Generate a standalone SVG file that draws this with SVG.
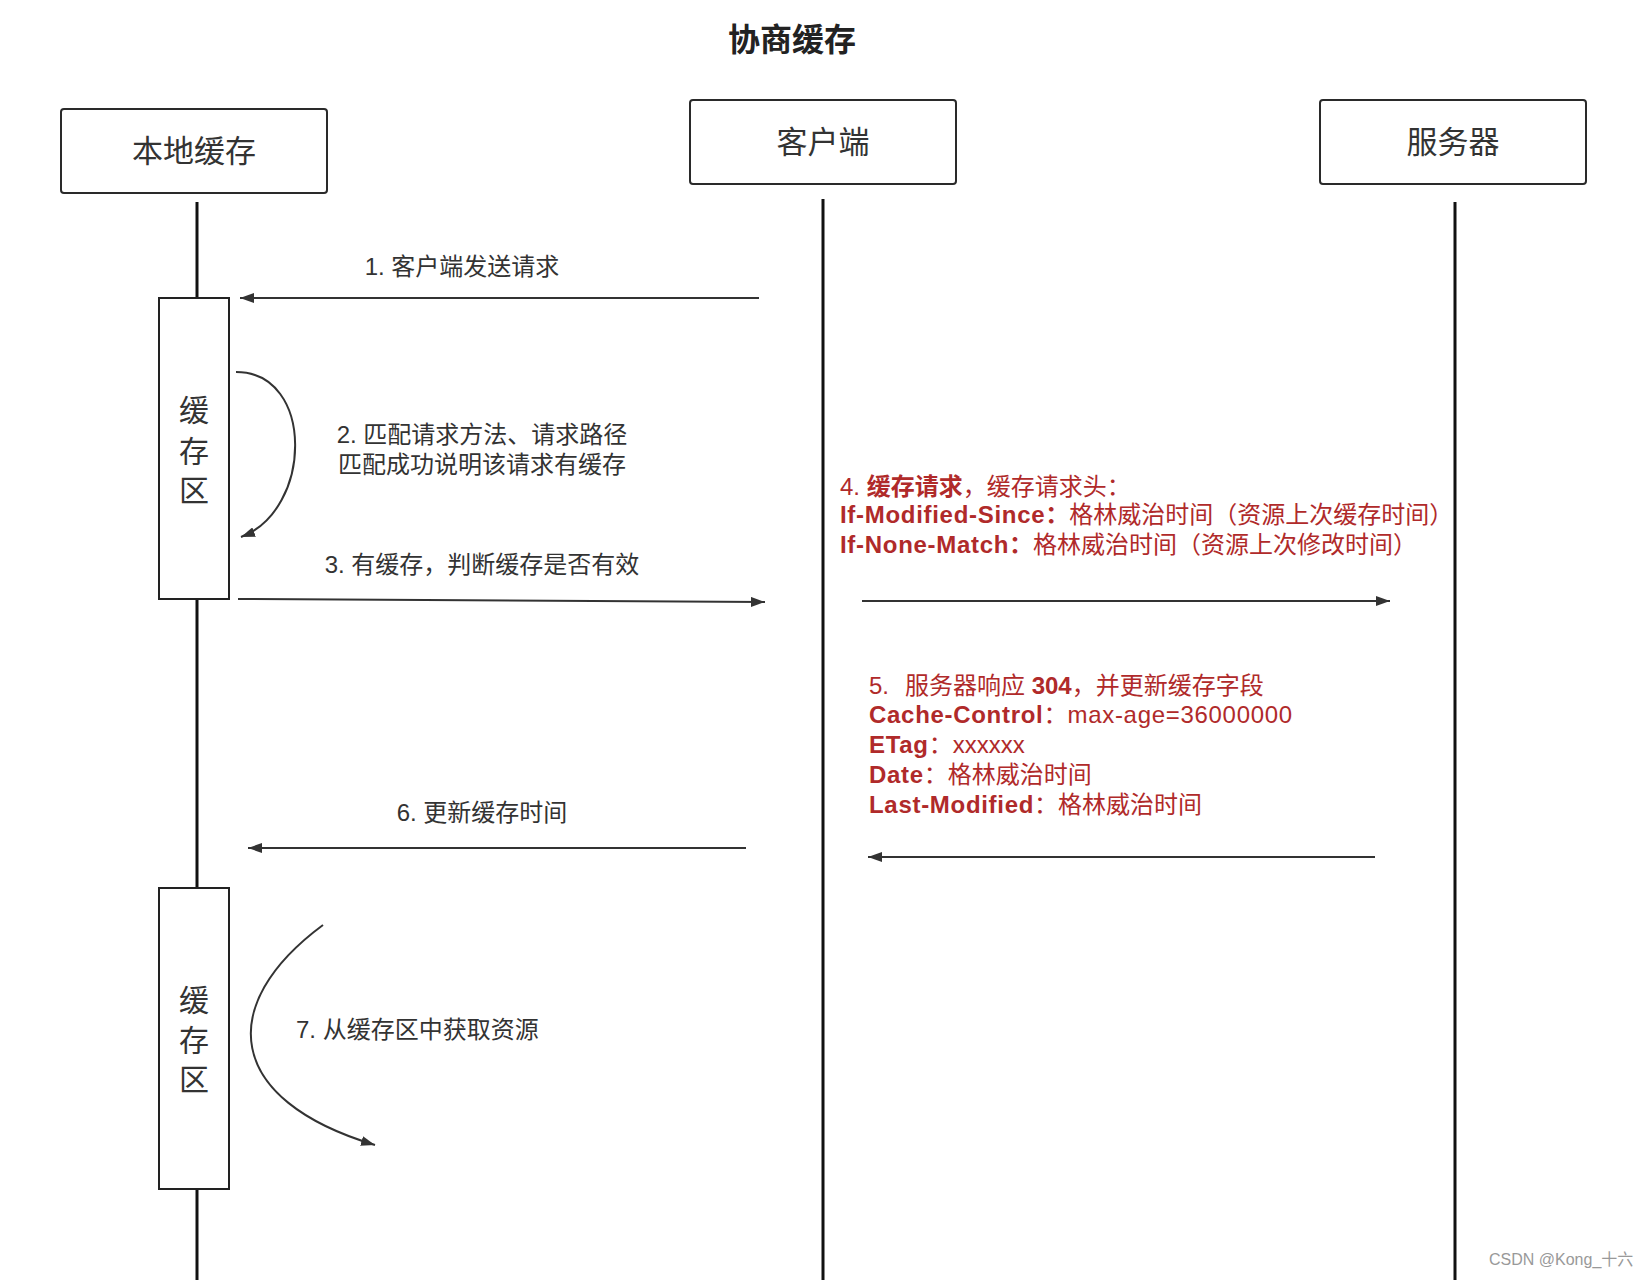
<svg xmlns="http://www.w3.org/2000/svg" width="1648" height="1280" viewBox="0 0 1648 1280">
<style>
text{font-family:"Liberation Sans","Noto Sans CJK SC",sans-serif;}
.title{font-size:32px;font-weight:bold;fill:#222;text-anchor:middle;}
.nodetxt{font-size:31px;fill:#333;text-anchor:middle;}
.box{fill:#fff;stroke:#2a2a2a;stroke-width:2;}
.act{fill:#fff;stroke:#222;stroke-width:2;}
.life{stroke:#111;stroke-width:3;fill:none;}
.arr{stroke:#333;stroke-width:2;fill:none;marker-end:url(#ah);}
.lbl{font-size:24px;fill:#333;}
.red{font-size:24px;fill:#b02a2a;}
.b{font-weight:bold;}
.ls{letter-spacing:0.7px;}
.acttxt{font-size:30px;fill:#333;text-anchor:middle;}
.wm{font-size:16px;fill:#999;}
</style>
<defs>
<marker id="ah" markerUnits="userSpaceOnUse" markerWidth="15" markerHeight="10" refX="14" refY="5" orient="auto">
<path d="M0,0 L14,5 L0,10 z" fill="#333"/>
</marker>
</defs>
<rect width="1648" height="1280" fill="#fff"/>
<text class="title" x="792" y="51">协商缓存</text>

<g id="lifelines">
<line class="life" x1="197" y1="202" x2="197" y2="298"/>
<line class="life" x1="197" y1="599" x2="197" y2="888"/>
<line class="life" x1="197" y1="1189" x2="197" y2="1280"/>
<line class="life" x1="823" y1="199" x2="823" y2="1280"/>
<line class="life" x1="1455" y1="202" x2="1455" y2="1280"/>
</g>

<g id="node-local">
<rect class="box" x="61" y="109" width="266" height="84" rx="3"/>
<text class="nodetxt" x="194" y="162">本地缓存</text>
</g>
<g id="node-client">
<rect class="box" x="690" y="100" width="266" height="84" rx="3"/>
<text class="nodetxt" x="823" y="153">客户端</text>
</g>
<g id="node-server">
<rect class="box" x="1320" y="100" width="266" height="84" rx="3"/>
<text class="nodetxt" x="1453" y="153">服务器</text>
</g>

<g id="cache-area-1">
<rect class="act" x="159" y="298" width="70" height="301"/>
<text class="acttxt" x="194" y="421">缓</text>
<text class="acttxt" x="194" y="462">存</text>
<text class="acttxt" x="194" y="501">区</text>
</g>
<g id="cache-area-2">
<rect class="act" x="159" y="888" width="70" height="301"/>
<text class="acttxt" x="194" y="1011">缓</text>
<text class="acttxt" x="194" y="1051">存</text>
<text class="acttxt" x="194" y="1090">区</text>
</g>

<g id="connectors">
<line class="arr" x1="759" y1="298" x2="240" y2="298"/>
<path class="arr" d="M236,372 C315,372 313,510 241,537"/>
<line class="arr" x1="238" y1="599" x2="765" y2="602"/>
<line class="arr" x1="862" y1="601" x2="1390" y2="601"/>
<line class="arr" x1="1375" y1="857" x2="868" y2="857"/>
<line class="arr" x1="746" y1="848" x2="248" y2="848"/>
<path class="arr" d="M323,925 C215,1005 225,1100 375,1145"/>
</g>

<g id="labels">
<text class="lbl" x="462" y="275" text-anchor="middle">1. 客户端发送请求</text>
<text class="lbl" x="482" y="443" text-anchor="middle">2. 匹配请求方法、请求路径</text>
<text class="lbl" x="482" y="473" text-anchor="middle">匹配成功说明该请求有缓存</text>
<text class="lbl" x="482" y="573" text-anchor="middle">3. 有缓存，判断缓存是否有效</text>
<text class="red" x="840" y="495">4. <tspan class="b">缓存请求</tspan>，缓存请求头：</text>
<text class="red" x="840" y="523"><tspan class="b ls">If-Modified-Since</tspan><tspan class="b">：</tspan>格林威治时间（资源上次缓存时间）</text>
<text class="red" x="840" y="553"><tspan class="b ls">If-None-Match</tspan><tspan class="b">：</tspan>格林威治时间（资源上次修改时间）</text>
<text class="red" x="869" y="694">5.<tspan x="905">服务器响应 </tspan><tspan class="b">304</tspan>，并更新缓存字段</text>
<text class="red" x="869" y="723"><tspan class="b ls">Cache-Control</tspan>：<tspan class="ls">max-age=36000000</tspan></text>
<text class="red" x="869" y="753"><tspan class="b ls">ETag</tspan>：xxxxxx</text>
<text class="red" x="869" y="783"><tspan class="b ls">Date</tspan>：格林威治时间</text>
<text class="red" x="869" y="813"><tspan class="b ls">Last-Modified</tspan>：格林威治时间</text>
<text class="lbl" x="482" y="821" text-anchor="middle">6. 更新缓存时间</text>
<text class="lbl" x="296" y="1038">7. 从缓存区中获取资源</text>
</g>

<text class="wm" x="1489" y="1265">CSDN @Kong_十六</text>
</svg>
